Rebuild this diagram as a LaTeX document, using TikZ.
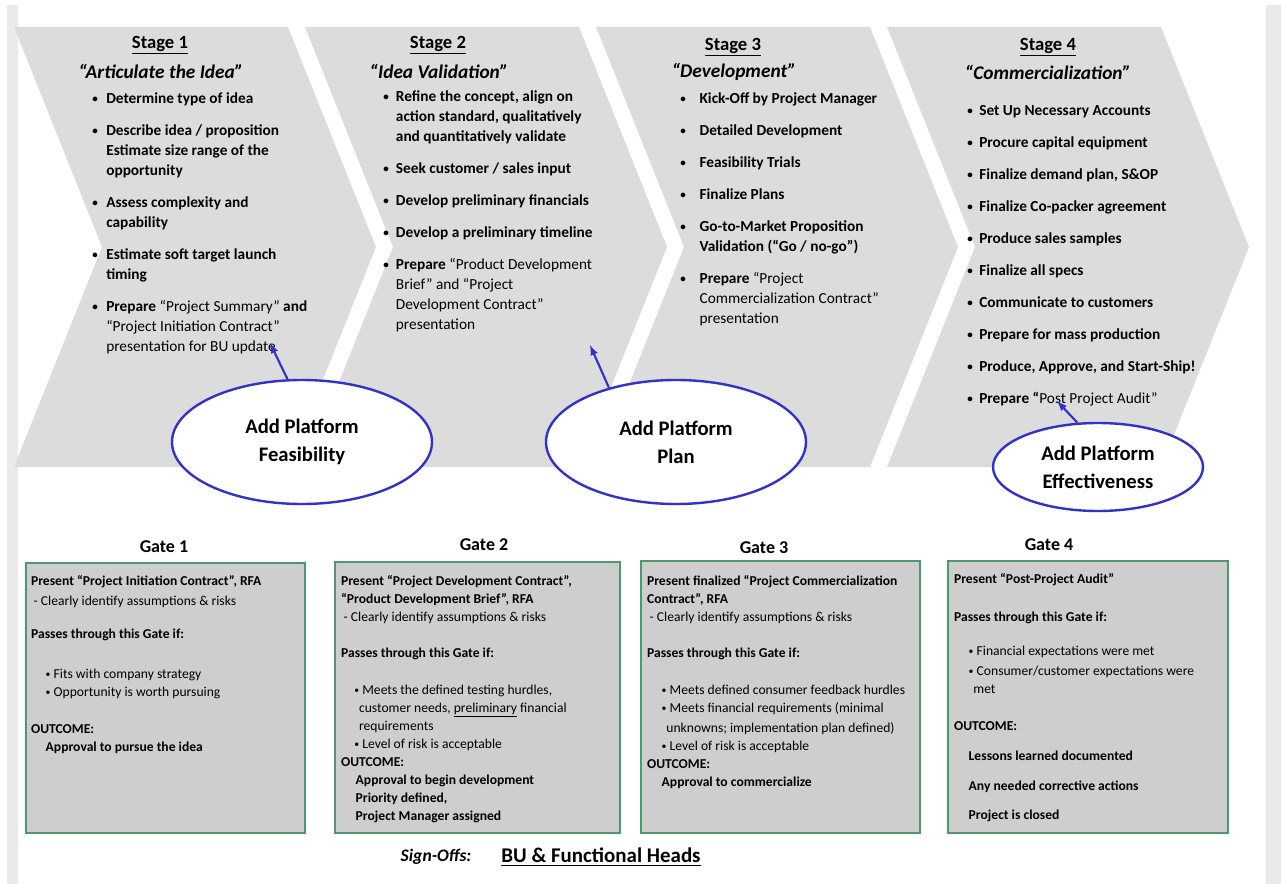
\documentclass[tikz,border=0pt]{standalone}
\usepackage{fontspec}
\setmainfont{Carlito}
\usepackage{array}
\usepackage{graphicx}
\usetikzlibrary{shapes.geometric}

\definecolor{chev}{RGB}{220,220,220}
\definecolor{gatefill}{RGB}{206,206,206}
\definecolor{gateline}{RGB}{78,152,112}
\definecolor{ovalblue}{RGB}{50,50,200}
\definecolor{framegray}{RGB}{234,234,234}

% small bullet, as in the slides
\newcommand{\sbul}{\raisebox{0.12ex}{\scalebox{0.72}{\textbullet}}}
% bullet column + text column
\newcommand{\bulletrows}[2]{\begin{tabular}{@{}p{#1}@{}l@{}}#2\end{tabular}}
\newcommand{\gaterows}[1]{\begin{tabular}{@{}l@{}}#1\end{tabular}}

\begin{document}
\begin{tikzpicture}[x=0.75pt,y=0.75pt,yscale=-1,xscale=1,
  stagetitle/.style={inner sep=0pt, font=\fontsize{14}{16}\selectfont\bfseries},
  stagequote/.style={inner sep=0pt, font=\fontsize{14.5}{16}\selectfont\bfseries\itshape},
  stagelist/.style={anchor=north west, inner sep=0pt, font=\fontsize{11.5}{15}\selectfont\bfseries},
  platform/.style={ellipse, draw=ovalblue, line width=1.8pt, fill=white, align=center, inner sep=0pt, font=\fontsize{15.5}{21}\selectfont\bfseries},
  platarrow/.style={draw=ovalblue, line width=1.6pt, -latex},
  gatetitle/.style={inner sep=0pt, font=\fontsize{13.5}{16}\selectfont\bfseries},
  gatebox/.style={draw=gateline, line width=1.8pt, fill=gatefill, inner sep=0pt},
  gatetext/.style={anchor=north west, inner sep=0pt, font=\fontsize{10.2}{13.5}\selectfont},
]
\useasboundingbox (0,0) rectangle (1281,884);
\fill[white] (0,0) rectangle (1281,884);

%Frame bars
\fill[framegray] (7,5) rectangle (18,884);
\fill[framegray] (1266,5) rectangle (1281,884);

%Chevrons
\foreach \x in {14,305,596,887}
  \fill[chev] (\x,27) -- (\x+274,27) -- (\x+362,247) -- (\x+274,467) -- (\x,467) -- (\x+88,247) -- cycle;

% Stage 1
\node[stagetitle] (st1) at (160,45) {\underline{Stage 1}};
\node[stagequote] (sq1) at (161,71) {“Articulate the Idea”};
\node[stagelist] (sl1) at (92,89) {\bulletrows{10.5pt}{%
\sbul & Determine type of idea\\[9pt]
\sbul & Describe idea / proposition\\
 & Estimate size range of the\\
 & opportunity\\[9pt]
\sbul & Assess complexity and\\
 & capability\\[9pt]
\sbul & Estimate soft target launch\\
 & timing\\[9pt]
\sbul & Prepare {\mdseries “Project Summary”} and\\
 & {\mdseries “Project Initiation Contract”}\\
 & {\mdseries presentation for BU update}\\}};

% Stage 2
\node[stagetitle] (st2) at (438,45) {\underline{Stage 2}};
\node[stagequote] (sq2) at (439,71) {“Idea Validation”};
\node[stagelist] (sl2) at (383,87) {\bulletrows{9.5pt}{%
\sbul & Refine the concept, align on\\
 & action standard, qualitatively\\
 & and quantitatively validate\\[9pt]
\sbul & Seek customer / sales input\\[9pt]
\sbul & Develop preliminary financials\\[9pt]
\sbul & Develop a preliminary timeline\\[9pt]
\sbul & Prepare {\mdseries “Product Development}\\
 & {\mdseries Brief” and “Project}\\
 & {\mdseries Development Contract”}\\
 & {\mdseries presentation}\\}};

% Stage 3
\node[stagetitle] (st3) at (733,47) {\underline{Stage 3}};
\node[stagequote] (sq3) at (734,72) {“Development”};
\node[stagelist] (sl3) at (680,89) {\bulletrows{14.5pt}{%
\sbul & Kick-Off by Project Manager\\[9pt]
\sbul & Detailed Development\\[9pt]
\sbul & Feasibility Trials\\[9pt]
\sbul & Finalize Plans\\[9pt]
\sbul & Go-to-Market Proposition\\
 & Validation (“Go / no-go”)\\[9pt]
\sbul & Prepare {\mdseries “Project}\\
 & {\mdseries Commercialization Contract”}\\
 & {\mdseries presentation}\\}};

% Stage 4
\node[stagetitle] (st4) at (1048,47) {\underline{Stage 4}};
\node[stagequote] (sq4) at (1048,72) {“Commercialization”};
\node[stagelist] (sl4) at (967,101) {\bulletrows{9pt}{%
\sbul & Set Up Necessary Accounts\\[9pt]
\sbul & Procure capital equipment\\[9pt]
\sbul & Finalize demand plan, S\&OP\\[9pt]
\sbul & Finalize Co-packer agreement\\[9pt]
\sbul & Produce sales samples\\[9pt]
\sbul & Finalize all specs\\[9pt]
\sbul & Communicate to customers\\[9pt]
\sbul & Prepare for mass production\\[9pt]
\sbul & Produce, Approve, and Start-Ship!\\[9pt]
\sbul & Prepare “{\mdseries Post Project Audit”}\\}};

% Platform ellipses
\node[platform, minimum width=195pt, minimum height=93pt] (feas) at (302,442) {Add Platform\\Feasibility};
\node[platform, minimum width=195pt, minimum height=93pt] (plan) at (676,442) {Add Platform\\Plan};
\node[platform, minimum width=157.5pt, minimum height=66pt] (effect) at (1098,467) {Add Platform\\Effectiveness};

\coordinate (feastip) at (270,343);
\coordinate (plantip) at (590,345);
\coordinate (effecttip) at (1057,401);
\draw[platarrow] (feas.103) -- (feastip);
\draw[platarrow] (plan.141) -- (plantip);
\draw[platarrow] (effect.115) -- (effecttip);

% Gates
\node[gatetitle] (gt1) at (164,547) {Gate 1};
\node[gatetitle] (gt2) at (484,545) {Gate 2};
\node[gatetitle] (gt3) at (764,548) {Gate 3};
\node[gatetitle] (gt4) at (1049,545) {Gate 4};

\node[gatebox, minimum width=209.25pt, minimum height=202.5pt] (gb1) at (165.5,698) {};
\node[gatebox, minimum width=213.75pt, minimum height=203.25pt] (gb2) at (477.5,697.5) {};
\node[gatebox, minimum width=209.25pt, minimum height=204pt] (gb3) at (780.5,697) {};
\node[gatebox, minimum width=210pt, minimum height=204pt] (gb4) at (1088,697) {};

\node[gatetext] (gx1) at ([shift={(6,11)}]gb1.north west) {\gaterows{%
\textbf{Present “Project Initiation Contract”, RFA}\\[1.5pt]
\hspace*{2pt}- Clearly identify assumptions \& risks\\[11.25pt]
\textbf{Passes through this Gate if:}\\[16.5pt]
\hspace*{11pt}\sbul\ Fits with company strategy\\
\hspace*{11pt}\sbul\ Opportunity is worth pursuing\\[14.25pt]
\textbf{OUTCOME:}\\
\hspace*{11pt}\textbf{Approval to pursue the idea}\\}};

\node[gatetext] (gx2) at ([shift={(7,12)}]gb2.north west) {\gaterows{%
\textbf{Present “Project Development Contract”,}\\
\textbf{“Product Development Brief”, RFA}\\
\hspace*{2pt}- Clearly identify assumptions \& risks\\[13.5pt]
\textbf{Passes through this Gate if:}\\[14.25pt]
\hspace*{10pt}\sbul\ Meets the defined testing hurdles,\\
\hspace*{13.5pt}customer needs, \underline{preliminary} financial\\
\hspace*{13.5pt}requirements\\
\hspace*{10pt}\sbul\ Level of risk is acceptable\\
\textbf{OUTCOME:}\\
\hspace*{11pt}\textbf{Approval to begin development}\\
\hspace*{11pt}\textbf{Priority defined,}\\
\hspace*{11pt}\textbf{Project Manager assigned}\\}};

\node[gatetext] (gx3) at ([shift={(7,13)}]gb3.north west) {\gaterows{%
\textbf{Present finalized “Project Commercialization}\\
\textbf{Contract”, RFA}\\
\hspace*{2pt}- Clearly identify assumptions \& risks\\[13.5pt]
\textbf{Passes through this Gate if:}\\[14.25pt]
\hspace*{11pt}\sbul\ Meets defined consumer feedback hurdles\\
\hspace*{11pt}\sbul\ Meets financial requirements (minimal\\[1.5pt]
\hspace*{14.5pt}unknowns; implementation plan defined)\\
\hspace*{11pt}\sbul\ Level of risk is acceptable\\
\textbf{OUTCOME:}\\
\hspace*{11pt}\textbf{Approval to commercialize}\\}};

\node[gatetext] (gx4) at ([shift={(7,11)}]gb4.north west) {\gaterows{%
\textbf{Present “Post-Project Audit”}\\[15pt]
\textbf{Passes through this Gate if:}\\[12pt]
\hspace*{11pt}\sbul\ Financial expectations were met\\[1.5pt]
\hspace*{11pt}\sbul\ Consumer/customer expectations were\\
\hspace*{14.5pt}met\\[14.25pt]
\textbf{OUTCOME:}\\[9pt]
\hspace*{11pt}\textbf{Lessons learned documented}\\[9pt]
\hspace*{11pt}\textbf{Any needed corrective actions}\\[8.25pt]
\hspace*{11pt}\textbf{Project is closed}\\}};

% Sign-offs
\node[inner sep=0pt, font=\fontsize{13.2}{15}\selectfont\bfseries\itshape] (sign) at (436,857) {Sign-Offs:};
\node[inner sep=0pt, font=\fontsize{15.7}{18}\selectfont\bfseries] (heads) at (601,857) {\underline{BU \& Functional Heads}};

\end{tikzpicture}
\end{document}
